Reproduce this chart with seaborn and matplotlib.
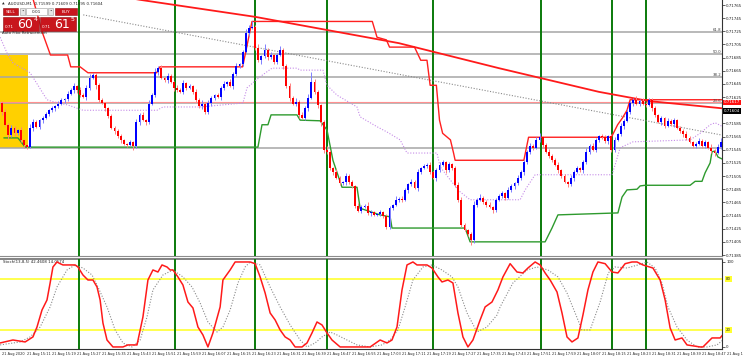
import numpy as np
import pandas as pd
import seaborn as sns
import matplotlib.pyplot as plt
from matplotlib.patches import Rectangle
from matplotlib.transforms import blended_transform_factory

# prices are kept as points above 0.71000 (604 -> 0.71604)
first_open = 616
closes = [
    602, 583, 567, 578, 570, 575, 560, 552,
    549, 578, 587, 580, 590, 593, 599, 605,
    608, 611, 615, 621, 622, 630, 636, 642,
    636, 628, 625, 639, 654, 659, 643, 621,
    616, 608, 596, 578, 574, 566, 560, 554,
    552, 557, 551, 587, 598, 590, 587, 615,
    628, 663, 669, 654, 651, 657, 648, 639,
    636, 633, 646, 639, 642, 633, 621, 611,
    615, 602, 616, 624, 628, 625, 639, 645,
    648, 642, 660, 672, 675, 694, 722, 730,
    732, 700, 681, 687, 697, 686, 689, 678,
    689, 697, 672, 642, 624, 615, 618, 598,
    593, 608, 624, 648, 633, 613, 587, 545,
    542, 517, 511, 502, 494, 496, 505, 496,
    490, 460, 452, 458, 460, 449, 450, 446,
    447, 450, 444, 428, 456, 461, 469, 470,
    469, 484, 493, 496, 487, 511, 517, 520,
    522, 511, 502, 514, 522, 526, 514, 523,
    517, 491, 469, 431, 423, 417, 408, 461,
    469, 472, 466, 461, 458, 453, 469, 475,
    479, 472, 484, 490, 494, 502, 511, 526,
    542, 551, 548, 560, 564, 552, 542, 536,
    529, 522, 514, 505, 496, 493, 502, 511,
    517, 514, 526, 542, 551, 545, 560, 566,
    564, 558, 566, 545, 560, 569, 581, 589,
    602, 616, 621, 615, 619, 615, 613, 621,
    608, 598, 587, 593, 581, 589, 584, 590,
    578, 574, 569, 563, 557, 551, 554, 558,
    551, 557, 548, 543, 540, 549, 557]
wick_up = [
    3, 5, 2, 4, 3, 2, 4, 2,  2, 6, 4, 3, 2, 4, 3, 2,
    3, 2, 4, 3, 2, 5, 3, 4,  2, 5, 3, 4, 6, 3, 2, 4,
    3, 2, 2, 4, 3, 2, 3, 2,  2, 3, 2, 5, 3, 4, 2, 6,
    4, 6, 3, 5, 2, 4, 3, 2,  4, 3, 5, 2, 3, 2, 4, 3,
    5, 2, 4, 3, 2, 4, 3, 5,  2, 4, 3, 5, 2, 3, 6, 4,
    8, 3, 5, 2, 8, 3, 4, 2,  3, 5, 2, 3, 4, 2, 6, 3,
    4, 3, 5, 15, 4, 3, 2, 3, 6, 3, 2, 4, 3, 2, 5, 3,
    3, 2, 4, 3, 2, 5, 3, 2,  2, 3, 2, 4, 3, 2, 5, 3,
    4, 3, 2, 5, 3, 4, 2, 3,  3, 4, 2, 3, 5, 3, 2, 4,
    2, 3, 5, 4, 3, 2, 3, 6,  3, 5, 2, 3, 4, 2, 3, 2,
    3, 2, 4, 3, 2, 5, 3, 4,  3, 5, 2, 4, 6, 2, 3, 4,
    2, 3, 4, 2, 3, 2, 5, 3,  4, 2, 3, 5, 2, 4, 3, 2,
    3, 4, 2, 3, 5, 2, 4, 3,  5, 3, 2, 6, 3, 4, 2, 3,
    3, 4, 2, 3, 2, 5, 3, 4,  2, 3, 2, 4, 3, 2, 3, 5,
    4, 3, 2, 5, 3, 4, 6]
wick_dn = [
    4, 2, 5, 3, 4, 2, 3, 4,  3, 2, 4, 2, 3, 5, 2, 3,
    2, 4, 3, 2, 5, 3, 2, 4,  5, 3, 2, 4, 3, 2, 5, 3,
    2, 4, 3, 2, 5, 3, 4, 2,  3, 2, 6, 3, 4, 2, 5, 3,
    2, 3, 4, 2, 3, 5, 2, 4,  3, 2, 4, 3, 2, 4, 3, 2,
    4, 3, 2, 5, 3, 2, 4, 3,  3, 2, 4, 3, 2, 3, 2, 4,
    2, 4, 3, 5, 2, 4, 3, 2,  3, 2, 4, 3, 5, 2, 3, 4,
    2, 3, 4, 2, 3, 4, 6, 5,  4, 3, 5, 2, 3, 2, 4, 3,
    3, 4, 2, 3, 2, 3, 4, 2,  2, 3, 2, 3, 4, 3, 2, 4,
    3, 2, 4, 3, 2, 5, 3, 2,  2, 3, 2, 4, 3, 2, 4, 3,
    3, 2, 4, 3, 2, 3, 8, 4,  3, 2, 4, 3, 2, 4, 3, 2,
    3, 4, 2, 3, 4, 2, 3, 4,  2, 3, 4, 2, 3, 4, 2, 3,
    3, 2, 4, 3, 2, 5, 3, 4,  2, 3, 4, 2, 3, 2, 4, 3,
    3, 2, 5, 4, 3, 2, 3, 4,  2, 3, 4, 2, 3, 2, 3, 2,
    4, 3, 2, 4, 3, 2, 3, 4,  2, 3, 4, 3, 2, 4, 3, 2,
    3, 4, 2, 3, 4, 2, 3]

# indicator lines (bar index, points)
ma_bars = [30, 44, 81, 127, 159, 191, 207, 230.4]
ma_vals = [785, 773, 747, 707, 669, 633, 619, 608]
hi_bars = [9, 10, 13, 15.5, 21, 22, 25, 27.5, 49.5, 50.5, 77, 80, 118.5, 120, 123, 124, 132, 134,
           136, 137, 139, 140, 141, 143.5, 144.5, 145, 167, 168.5, 195, 197, 198.5, 200, 201, 230.4]
hi_vals = [785, 773, 722, 689, 689, 671, 671, 662, 662, 671, 671, 740, 740, 716, 712, 701, 701, 681,
           681, 643, 643, 590, 570, 560, 540, 529, 529, 564, 564, 583, 593, 605, 621, 621]
lo_bars = [0.6, 5.1, 7.4, 81.9, 83.2, 85.1, 86.1, 94.4, 95.4, 101.8, 104, 105.9, 108.8, 113.6,
           114.6, 121, 124.2, 124.8, 148.2, 149.8, 173.8, 176, 177.9, 197.1, 198.4, 200, 203.2,
           204.2, 205.8, 220.2, 221.8, 224, 225, 226.6, 227.2, 228.2, 229.1, 230.4]
lo_vals = [563, 563, 549, 549, 583, 583, 598, 598, 590, 589, 575, 529, 488, 488, 456, 446, 443,
           426, 426, 405, 405, 426, 446, 449, 473, 484, 485, 490, 491, 491, 497, 497, 510, 525,
           542, 543, 534, 531]
pu_bars = [-0.6, 1.6, 3.5, 9.0, 14.4, 16.3, 21.1, 25.9, 49.6, 51.5, 63.4, 77.1, 78.4, 82.6, 86.4,
           94.4, 95.4, 102.7, 104.0, 107.2, 113.6, 114.6, 120.0, 123.2, 127.4, 129.6, 139.2, 140.2,
           144.3, 146.6, 149.8, 165.8, 167.4, 170.6, 195.2, 196.2, 197.8, 201.9, 220.2, 223.4,
           226.6, 228.2, 230.7]
pu_vals = [716, 692, 677, 662, 621, 618, 613, 605, 605, 610, 610, 616, 639, 656, 669, 669, 666,
           666, 643, 628, 610, 595, 580, 572, 560, 540, 540, 519, 494, 481, 469, 469, 484, 507,
           507, 522, 548, 557, 560, 570, 583, 586, 580]
trend_bars = [26, 230.7]
trend_vals = [750, 567]
fib_names = ["61.8", "50.0", "38.2", "23.6", ""]
fib_vals = [724, 691, 656, 616, 548]
box_bars = [-0.64, 8.3]
box_vals = [548, 689]
green_vlines = [24.6, 55.4, 81, 104, 138, 172.5, 195.2, 206]

# stochastic (13,8,5)
k_bars = [-0.6, 3.5, 7.4, 9.9, 11.2, 12.8, 14.4, 15.4, 16.3, 17.6, 18.6, 19.5, 23.4, 24.3, 25.9,
          27.5, 29.1, 30.4, 31.4, 32.3, 33.6, 35.5, 38.7, 40.3, 43.2, 45.1, 46.7, 48.3, 49.9,
          51.2, 52.8, 53.8, 54.7, 56.3, 57.9, 59.5, 61.1, 62.7, 64.3, 65.9, 67.5, 69.8, 70.7,
          73.0, 74.6, 79.4, 81.0, 82.6, 84.2, 85.8, 87.4, 89.0, 90.6, 92.2, 93.8, 96.0, 97.6,
          99.2, 100.8, 102.4, 104.0, 105.6, 108.2, 111.4, 114.6, 117.8, 121.0, 123.2, 124.8,
          126.4, 128.0, 129.6, 131.5, 132.8, 136.0, 137.6, 139.5, 140.8, 142.7, 144.3, 145.9,
          147.5, 149.1, 150.7, 153.0, 154.6, 156.8, 158.7, 160.3, 162.6, 164.8, 166.7, 168.3,
          170.6, 172.2, 173.8, 175.4, 177.6, 179.2, 180.8, 182.4, 184.3, 185.9, 187.5, 189.1,
          190.7, 193.0, 195.2, 197.1, 199.4, 201.6, 203.2, 205.1, 208.3, 210.6, 212.2, 213.8,
          215.4, 217.6, 219.2, 223.4, 224.3, 227.2, 229.8, 231.4]
k_vals = [4.7, 8.2, 5.9, 11.8, 23.5, 43.5, 55.3, 75.3, 94.1, 100, 98, 96.5, 96.5, 94.1, 84.7,
          78.8, 78.8, 70.6, 55.3, 28.2, 8.2, 0, 0, 2.4, 2.4, 35.3, 78.8, 90.6, 88.2, 96.5, 94.1,
          90.6, 90.6, 82.4, 72.9, 52.9, 45.9, 23.5, 14.1, 0, 16.5, 47.1, 78.8, 90.6, 100, 100,
          98, 82.4, 63.5, 40, 31.8, 20, 11.8, 8.2, 0, 0, 4.7, 16.5, 29.4, 25.9, 16.5, 8.2, 0, 0,
          0, 0, 8.2, 4.7, 8.2, 23.5, 67.1, 96.5, 100, 96.5, 96.5, 92.9, 82.4, 76.5, 78.8, 75.3,
          40, 11.8, 0, 8.2, 31.8, 47.1, 52.9, 67.1, 82.4, 98, 88.2, 87.1, 92.9, 100, 96.5, 87.1,
          78.8, 64.7, 40, 11.8, 5.9, 10.6, 37.6, 67.1, 88.2, 100, 98, 88.2, 87.1, 98, 100, 100,
          96.5, 92.9, 78.8, 55.3, 22.4, 8.2, 10.6, 2.4, 0, 0, 10.6, 10.6, 17.6]
d_bars = [-0.6, 5.8, 9.0, 12.2, 15.4, 17.6, 20.8, 23.4, 25.9, 28.8, 30.7, 33.6, 36.2, 38.7, 41.6,
          44.2, 46.4, 48.3, 51.5, 54.7, 57.9, 60.8, 63.4, 65.9, 68.8, 70.7, 73.0, 75.5, 77.8,
          79.4, 82.6, 85.8, 89.0, 92.2, 95.4, 97.6, 100.2, 102.4, 105.0, 107.2, 110.4, 113.6,
          117.8, 121.6, 124.2, 126.7, 129.0, 131.5, 134.7, 137.6, 140.8, 144.0, 145.9, 148.8,
          152.0, 155.2, 158.4, 159.4, 163.5, 168.0, 171.2, 174.7, 177.9, 180.8, 183.4, 185.6,
          188.2, 191.4, 194.0, 196.2, 200.0, 203.5, 206.4, 209.0, 211.2, 213.1, 216.0, 219.2,
          222.4, 225.6, 228.8, 230.7]
d_vals = [2.4, 5.9, 11.8, 23.5, 47.1, 70.6, 90.6, 96.5, 92.9, 84.7, 70.6, 47.1, 20, 4.7, 0, 8.2,
          35.3, 67.1, 84.7, 90.6, 82.4, 70.6, 51.8, 29.4, 17.6, 23.5, 43.5, 75.3, 94.1, 100,
          96.5, 70.6, 47.1, 25.9, 8.2, 0, 4.7, 11.8, 17.6, 14.1, 8.2, 2.4, 0, 2.4, 8.2, 20, 47.1,
          78.8, 94.1, 96.5, 90.6, 82.4, 70.6, 40, 17.6, 23.5, 37.6, 47.1, 75.3, 90.6, 94.1, 90.6,
          82.4, 63.5, 40, 20, 20, 52.9, 87.1, 94.1, 92.9, 96.5, 100, 92.9, 75.3, 47.1, 23.5, 8.2,
          0, 0, 2.4, 8.2]

price_ticks = [0.71385, 0.71405, 0.71425, 0.71445, 0.71465, 0.71485, 0.71505, 0.71525, 0.71545,
               0.71565, 0.71585, 0.71625, 0.71645, 0.71665, 0.71685, 0.71705, 0.71725, 0.71745,
               0.71765]
ask_price = 0.71617
bid_price = 0.71604
time_labels = ["21 Aug 2020", "21 Aug 15:11", "21 Aug 15:19", "21 Aug 15:27", "21 Aug 15:35",
               "21 Aug 15:43", "21 Aug 15:51", "21 Aug 15:59", "21 Aug 16:07", "21 Aug 16:15",
               "21 Aug 16:23", "21 Aug 16:31", "21 Aug 16:39", "21 Aug 16:47", "21 Aug 16:55",
               "21 Aug 17:03", "21 Aug 17:11", "21 Aug 17:19", "21 Aug 17:27", "21 Aug 17:35",
               "21 Aug 17:43", "21 Aug 17:51", "21 Aug 17:59", "21 Aug 18:07", "21 Aug 18:15",
               "21 Aug 18:23", "21 Aug 18:31", "21 Aug 18:39", "21 Aug 18:47", "21 Aug 18:55"]
time_bars = list(range(0, 8 * len(time_labels), 8))


def px(p):
    return 0.71 + np.asarray(p, float) / 1e5


sns.set_style("white")
plt.rcParams['font.family'] = ['DejaVu Sans']

W, H = 743, 358
fig = plt.figure(figsize=(W / 100, H / 100), dpi=100)


def add_box(x0, y0, x1, y1):
    return fig.add_axes([x0 / W, 1 - y1 / H, (x1 - x0) / W, (y1 - y0) / H])


ax = add_box(0, 0, 722, 256)
ax2 = add_box(0, 259, 722, 349)

# --- candles ---
df = pd.DataFrame({'bar': np.arange(len(closes)), 'close': closes})
df['open'] = [first_open] + closes[:-1]
df['high'] = df[['open', 'close']].max(axis=1) + wick_up
df['low'] = df[['open', 'close']].min(axis=1) - wick_dn
df['dir'] = np.sign(df['close'] - df['open'])
body_col = df['dir'].map({1: '#0000ff', -1: '#ff0000', 0: '#00a000'})
wick_col = df['dir'].map({1: '#7f7fff', -1: '#ff8080', 0: '#40c040'})

ax.add_patch(Rectangle((box_bars[0], px(box_vals[0])), box_bars[1] - box_bars[0],
                       px(box_vals[1]) - px(box_vals[0]), color='#ffd000', lw=0, zorder=1))
for name, v in zip(fib_names, fib_vals):
    ax.axhline(px(v), color='#a6a6a6', lw=1.1, zorder=2)
    if name:
        ax.text(230.2, px(v), name, fontsize=2.8, ha='right', va='bottom', color='#404040', zorder=6)
ax.axhline(ask_price, color='#ff9090', lw=0.8, zorder=2)
for b in green_vlines:
    ax.axvline(b, color='#0a7a0a', lw=1.4, zorder=3)
    ax2.axvline(b, color='#0a7a0a', lw=1.4, zorder=3)

sns.lineplot(x=trend_bars, y=px(trend_vals), ax=ax, color='#8a8a8a', lw=0.8, linestyle=(0, (1, 1.5)),
             estimator=None, sort=False, zorder=3)
sns.lineplot(x=pu_bars, y=px(pu_vals), ax=ax, color='#c58be8', lw=0.8, linestyle=(0, (1, 1.5)),
             estimator=None, sort=False, zorder=3)
sns.lineplot(x=lo_bars, y=px(lo_vals), ax=ax, color='#2e9a2e', lw=1.0, estimator=None, sort=False, zorder=3)
sns.lineplot(x=hi_bars, y=px(hi_vals), ax=ax, color='#ff2020', lw=1.0, estimator=None, sort=False, zorder=3)
sns.lineplot(x=ma_bars, y=px(ma_vals), ax=ax, color='#ff1a1a', lw=1.3, estimator=None, sort=False, zorder=3)

ax.vlines(df['bar'], px(df['low']), px(df['high']), colors=wick_col, lw=0.7, zorder=4)
body_h = np.maximum((df['close'] - df['open']).abs(), 1.0) / 1e5
ax.bar(df['bar'], body_h, bottom=px(df[['open', 'close']].min(axis=1)), width=0.62,
       color=body_col, lw=0, zorder=5)

ax.set_xlim(-0.64, 230.4)
ax.set_ylim(0.713835, 0.717726)
ax.set_xticks([])
ax.yaxis.tick_right()
ax.set_yticks(price_ticks)
ax.set_yticklabels([f"{t:.5f}" for t in price_ticks])
ax.tick_params(axis='y', labelsize=2.9, length=2, width=0.5, pad=1, colors='#222222')
for s in ['left', 'top']:
    ax.spines[s].set_visible(False)
ax.spines['right'].set_color('#333333')
ax.spines['bottom'].set_color('#8c8c8c')
for s in ax.spines.values():
    s.set_linewidth(0.8)
bt = blended_transform_factory(ax.transAxes, ax.transData)
ax.text(1.003, ask_price, f"{ask_price:.5f}", transform=bt, fontsize=2.9, color='white', va='center',
        bbox=dict(boxstyle='square,pad=0.2', fc='#ff1010', ec='none'), clip_on=False, zorder=10)
ax.text(1.003, bid_price, f"{bid_price:.5f}", transform=bt, fontsize=2.9, color='white', va='center',
        bbox=dict(boxstyle='square,pad=0.2', fc='#000000', ec='none'), clip_on=False, zorder=10)

# --- stochastic window ---
ax2.axhline(80, color='#ffff30', lw=1.2, zorder=2)
ax2.axhline(20, color='#ffff30', lw=1.2, zorder=2)
sns.lineplot(x=d_bars, y=d_vals, ax=ax2, color='#8a8a8a', lw=0.8, linestyle=(0, (1, 1.5)),
             estimator=None, sort=False, zorder=4)
sns.lineplot(x=k_bars, y=k_vals, ax=ax2, color='#ff1a1a', lw=1.1, estimator=None, sort=False, zorder=5)
ax2.set_xlim(-0.64, 230.4)
ax2.set_ylim(-2.4, 103.5)
ax2.yaxis.tick_right()
ax2.set_yticks([0, 100])
ax2.set_yticklabels(['0', '100'])
ax2.tick_params(axis='y', labelsize=2.9, length=2, width=0.5, pad=1, colors='#222222')
ax2.set_xticks(time_bars[:-1])
ax2.set_xticklabels([])
ax2.tick_params(axis='x', length=1.5, width=0.5)
ax2.spines['left'].set_visible(False)
ax2.spines['top'].set_color('#6e6e6e')
ax2.spines['top'].set_linewidth(1.2)
ax2.spines['right'].set_color('#333333')
ax2.spines['bottom'].set_color('#333333')
ax2.spines['right'].set_linewidth(0.8)
ax2.spines['bottom'].set_linewidth(0.8)
bt2 = blended_transform_factory(ax2.transAxes, ax2.transData)
for lv in (80, 20):
    ax2.text(1.005, lv, str(lv), transform=bt2, fontsize=2.9, va='center', clip_on=False,
             bbox=dict(boxstyle='square,pad=0.25', fc='#ffff30', ec='none'))
ax2.text(0.004, 0.985, "Stoch(13,8,5) 42.4608 14.0574", transform=ax2.transAxes, fontsize=2.8,
         va='top', color='#222222')
tt = blended_transform_factory(ax2.transData, fig.transFigure)
for b, lab in zip(time_bars, time_labels):
    ax2.text(b, 1 - 353.5 / H, lab, transform=tt, fontsize=2.5, va='center', ha='left',
             color='#222222', clip_on=False)

# --- one-click trading panel overlay ---
ov = fig.add_axes([0, 0, 1, 1], zorder=20)
ov.set_xlim(0, W)
ov.set_ylim(H, 0)
ov.set_axis_off()
ov.patch.set_alpha(0)
ov.text(2, 4, "\u25b2", fontsize=2.5, va='center')
ov.text(8, 4, "AUDUSD,M1  0.71599 0.71609 0.71595 0.71604", fontsize=2.8, va='center', color='#222222')
red = '#c8161d'
ov.add_patch(Rectangle((3, 8), 15, 7, fc=red, ec='#8a0c10', lw=0.4))
ov.text(10.5, 11.6, "SELL", fontsize=3.1, color='white', ha='center', va='center')
ov.add_patch(Rectangle((20, 8), 5, 7, fc='#e6e6e6', ec='#9a9a9a', lw=0.4))
ov.text(22.5, 11.5, "\u2022", fontsize=3, ha='center', va='center')
ov.add_patch(Rectangle((26, 8), 21, 7, fc='white', ec='#9a9a9a', lw=0.4))
ov.text(36.5, 11.6, "0.01", fontsize=3.1, ha='center', va='center')
ov.add_patch(Rectangle((48, 8), 5, 7, fc='#e6e6e6', ec='#9a9a9a', lw=0.4))
ov.text(50.5, 11.5, "\u2022", fontsize=3, ha='center', va='center')
ov.add_patch(Rectangle((55, 8), 22, 7, fc=red, ec='#8a0c10', lw=0.4))
ov.text(66, 11.6, "BUY", fontsize=3.1, color='white', ha='center', va='center')
for x0, big, sup in [(3, "60", "4"), (40, "61", "5")]:
    ov.add_patch(Rectangle((x0, 16.5), 36, 14, fc=red, ec='#8a0c10', lw=0.4))
    ov.text(x0 + 2, 26.5, "0.71", fontsize=3.0, color='white', va='center')
    ov.text(x0 + 14, 24.5, big, fontsize=9, color='white', va='center')
    ov.text(x0 + 30.5, 19.8, sup, fontsize=4.5, color='white', va='center')
ov.text(2, 33, "Auto Fibo Retracement", fontsize=2.8, va='center', color='#222222')

fig.savefig('out.png', dpi=100)
